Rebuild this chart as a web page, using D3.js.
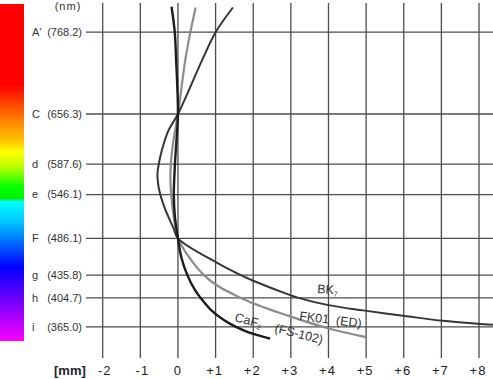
<!DOCTYPE html>
<html>
<head>
<meta charset="utf-8">
<script src="https://cdn.jsdelivr.net/npm/d3@7"></script>
<style>
    body { margin: 0; background: #fff; }
    svg text { font-family: "Liberation Sans", Arial, sans-serif; fill: #333; }
</style>
</head>
<body>
<svg id="chart" width="493" height="379"></svg>
<script>
// Fraunhofer lines (nm)
const lineNames = ["A\u2032", "C", "d", "e", "F", "g", "h", "i"];
const wavelengths = [768.2, 656.3, 587.6, 546.1, 486.1, 435.8, 404.7, 365.0];
const shiftTicks = [-2, -1, 0, 1, 2, 3, 4, 5, 6, 7, 8];

// focal shift curves: [wavelength nm, shift mm]
const bk7 = [[802, 1.46], [768.2, 1.0], [732, 0.66], [656.3, 0], [632.8, -0.26], [605.3, -0.435],
    [587.6, -0.51], [574.3, -0.546], [558.1, -0.52], [546.1, -0.47], [529.6, -0.366],
    [516.1, -0.26], [500.2, -0.12], [486.1, 0], [452.9, 1.03], [435.8, 1.67], [428.2, 2.0],
    [408.2, 3.0], [404.7, 3.2], [394.8, 4.0], [387.6, 4.92], [379.6, 6.08], [373.3, 7.04],
    [369.1, 8.03], [367.9, 8.37]];
const fk01 = [[802, 0.47], [768.2, 0.33], [732, 0.2], [656.3, 0], [620, -0.12], [587.6, -0.19],
    [566, -0.2], [546.1, -0.18], [515, -0.11], [486.1, 0], [460, 0.3], [435.8, 0.69],
    [421, 1.06], [404.7, 1.67], [398.4, 1.94], [381.3, 2.87], [363.5, 3.96], [351, 5.0]];
const caf2 = [[803, -0.17], [768.2, -0.085], [732, -0.05], [656.3, 0], [620, -0.04], [587.6, -0.08],
    [546.1, -0.11], [515, -0.08], [486.1, 0], [460, 0.09], [435.8, 0.25], [415.5, 0.45],
    [404.7, 0.6], [388, 0.88], [374.4, 1.22], [365, 1.54], [358, 1.86], [349, 2.45]];

// spectrum bar stops: [wavelength nm, colour]
const spectrum = [[810, "#ff0000"], [696, "#ff0000"], [648, "#ff7f00"], [621, "#ffc000"],
    [604, "#ffff00"], [584, "#bbff00"], [556, "#00ff00"], [541, "#00f000"], [536, "#00ffff"],
    [511, "#00ccff"], [484, "#0077ff"], [447, "#0000ff"], [420, "#4400ff"], [392, "#8800ff"],
    [357, "#dd00ff"], [340, "#ff00ff"]];

const svg = d3.select("#chart");

const x = d3.scaleLinear().domain([-2, 8]).range([102.7, 479]);
const y = d3.scaleLinear().domain([365, 768.2]).range([326.9, 32.2]);

// spectrum bar
const barTop = 4, barBottom = 341;
const grad = svg.append("defs").append("linearGradient")
    .attr("id", "spec")
    .attr("gradientUnits", "userSpaceOnUse")
    .attr("x1", 0).attr("x2", 0)
    .attr("y1", barTop).attr("y2", barBottom);
grad.selectAll("stop")
    .data(spectrum)
    .enter()
    .append("stop")
    .attr("offset", d => Math.max(0, Math.min(1, (y(d[0]) - barTop) / (barBottom - barTop))))
    .attr("stop-color", d => d[1]);
svg.append("rect")
    .attr("x", 0).attr("y", barTop)
    .attr("width", 24).attr("height", barBottom - barTop)
    .attr("fill", "url(#spec)");

// grid
const grid = svg.append("g").attr("stroke", "#4d4d4d").attr("stroke-width", 1.3);
grid.selectAll("line.v")
    .data(shiftTicks)
    .enter()
    .append("line")
    .attr("class", "v")
    .attr("x1", d => x(d)).attr("x2", d => x(d))
    .attr("y1", 3).attr("y2", 358);
grid.selectAll("line.h")
    .data(wavelengths)
    .enter()
    .append("line")
    .attr("class", "h")
    .attr("x1", 86).attr("x2", 493)
    .attr("y1", d => y(d)).attr("y2", d => y(d));

// wavelength labels
const labels = svg.append("g").attr("font-size", 11);
labels.selectAll("text.name")
    .data(lineNames)
    .enter()
    .append("text")
    .attr("class", "name")
    .attr("x", 32)
    .attr("y", (d, i) => y(wavelengths[i]))
    .attr("dy", "0.35em")
    .text(d => d);
labels.selectAll("text.wl")
    .data(wavelengths)
    .enter()
    .append("text")
    .attr("class", "wl")
    .attr("x", 82)
    .attr("y", d => y(d))
    .attr("dy", "0.35em")
    .attr("text-anchor", "end")
    .text(d => `(${d.toFixed(1)})`);
labels.append("text")
    .attr("x", 68).attr("y", 10)
    .attr("text-anchor", "middle")
    .attr("letter-spacing", 1)
    .text("(nm)");

// shift tick labels
svg.append("g").selectAll("text")
    .data(shiftTicks)
    .enter()
    .append("text")
    .attr("x", d => x(d) + (d > 0 ? -1 : d < 0 ? 2 : 0))
    .attr("y", 375)
    .attr("text-anchor", "middle")
    .attr("font-size", 13)
    .attr("letter-spacing", 1)
    .style("fill", "#222")
    .text(d => d > 0 ? `+${d}` : `${d}`);
svg.append("text")
    .attr("x", 54).attr("y", 375)
    .attr("font-size", 13)
    .attr("font-weight", "bold")
    .style("fill", "#222")
    .text("[mm]");

// curves
const line = d3.line()
    .x(d => x(d[1]))
    .y(d => y(d[0]))
    .curve(d3.curveCatmullRom.alpha(0.5));

const curves = [
    { data: fk01, color: "#8c8c8c", width: 2.2 },
    { data: bk7, color: "#363636", width: 2 },
    { data: caf2, color: "#1c1c1c", width: 2.4 }
];
svg.append("g").selectAll("path")
    .data(curves)
    .enter()
    .append("path")
    .attr("d", d => line(d.data))
    .attr("fill", "none")
    .attr("stroke", d => d.color)
    .attr("stroke-width", d => d.width);

// curve labels
const note = svg.append("g").attr("font-size", 12.5);
const bkText = note.append("text")
    .attr("transform", "translate(317,293) rotate(4)");
bkText.append("tspan").text("BK");
bkText.append("tspan").attr("font-size", 7).attr("dy", 2).text("7");

note.append("text")
    .attr("transform", "translate(299,320) rotate(7)")
    .attr("xml:space", "preserve")
    .text("FK01  (ED)");

const cafText = note.append("text")
    .attr("transform", "translate(234,321) rotate(15)");
cafText.append("tspan").text("CaF");
cafText.append("tspan").attr("font-size", 7).attr("dy", 2).text("2");

note.append("text")
    .attr("transform", "translate(274,332) rotate(14)")
    .text("(FS-102)");
</script>
</body>
</html>
